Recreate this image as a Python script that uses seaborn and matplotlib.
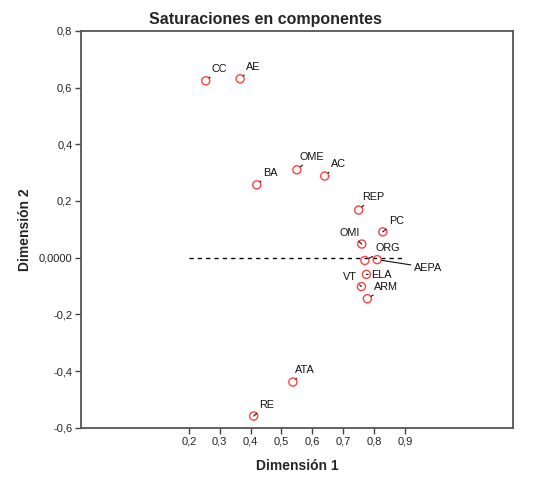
import numpy as np
import matplotlib
matplotlib.use("Agg")
import matplotlib.pyplot as plt
import seaborn as sns

# component loadings
labels = ["CC", "AE", "BA", "OME", "AC", "REP", "PC", "OMI", "ORG", "AEPA",
          "ELA", "VT", "ARM", "ATA", "RE"]
dim1 = [0.255, 0.366, 0.420, 0.550, 0.640, 0.750, 0.828, 0.760, 0.770, 0.810,
        0.775, 0.759, 0.778, 0.537, 0.410]
dim2 = [0.624, 0.631, 0.257, 0.310, 0.288, 0.168, 0.091, 0.048, -0.010, -0.007,
        -0.059, -0.102, -0.145, -0.439, -0.559]

ref_x = [0.2, 0.9]
ref_y = [0.0, 0.0]

xticks = [0.2, 0.3, 0.4, 0.5, 0.6, 0.7, 0.8, 0.9]
yticks = [-0.6, -0.4, -0.2, 0.0, 0.2, 0.4, 0.6, 0.8]

# label offsets in pixels (dx, dy) and horizontal alignment
offsets = {
    "CC": (6, 12, "left"), "AE": (6, 12, "left"), "BA": (6, 12, "left"),
    "OME": (3, 13, "left"), "AC": (6, 12, "left"), "REP": (3, 13, "left"),
    "PC": (6, 11, "left"), "OMI": (-2, 11, "right"), "ORG": (11, 12, "left"),
    "AEPA": (37, -8, "left"), "ELA": (5, -1, "left"), "VT": (-4, 10, "right"),
    "ARM": (7, 12, "left"), "ATA": (2, 12, "left"), "RE": (5, 11, "left"),
}

sns.set_style("white")
plt.rcParams["font.family"] = ["Liberation Sans", "DejaVu Sans"]

fig = plt.figure(figsize=(5.42, 4.88), dpi=100)
ax = fig.add_axes([0.149, 0.1236, 0.7976, 0.813])

ax.plot(ref_x, ref_y, linestyle=(0, (3, 3)), color="black", lw=1)

sns.scatterplot(x=dim1, y=dim2, ax=ax, marker="o", s=34,
                facecolors="none", edgecolors="#ff4444", linewidth=1, zorder=3)

for lab, x, y in zip(labels, dim1, dim2):
    dx, dy, ha = offsets[lab]
    ax.annotate(lab, (x, y), xytext=(dx, dy), textcoords="offset pixels",
                ha=ha, va="center", fontsize=7.8, color="#111111",
                arrowprops=dict(arrowstyle="-", color="#111111", lw=0.8,
                                shrinkA=0, shrinkB=3.2))

ax.set_xlim(-0.15, 1.25)
ax.set_ylim(-0.6, 0.8)
ax.set_xticks(xticks)
ax.set_xticklabels([f"{t:.1f}".replace(".", ",") for t in xticks])
ax.set_yticks(yticks)
ax.set_yticklabels(["0,0000" if t == 0 else f"{t:.1f}".replace(".", ",")
                    for t in yticks])
ax.tick_params(axis="both", direction="out", length=4, width=1,
               color="#444444", labelsize=8, labelcolor="#222222", pad=2,
               left=True, bottom=True)

for sp in ax.spines.values():
    sp.set_color("#555555")
    sp.set_linewidth(1.3)

ax.set_xlabel("Dimensión 1", fontsize=10, fontweight="bold", labelpad=9)
ax.set_ylabel("Dimensión 2", fontsize=10, fontweight="bold", labelpad=5)
fig.suptitle("Saturaciones en componentes", x=0.489, y=0.976,
             fontsize=11.5, fontweight="bold")

fig.savefig("out.png", dpi=100)
